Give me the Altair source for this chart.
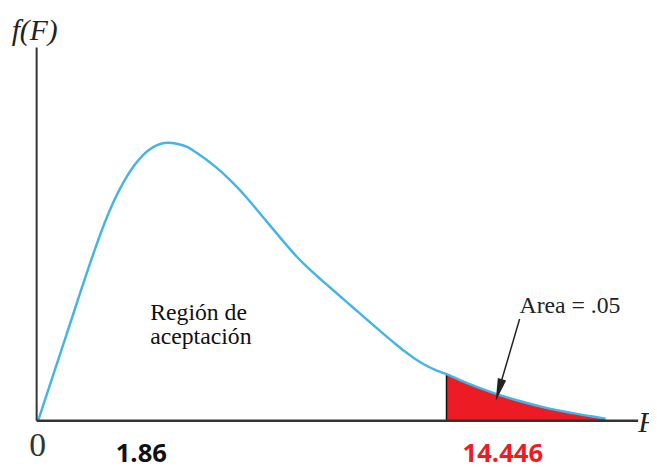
import altair as alt
import pandas as pd

# F-distribution curve (abstract F units, density)
F_vals = [0.052, 1.044, 2.054, 2.367, 2.715, 3.063, 3.411, 3.759, 4.107, 4.351, 4.629,
          4.977, 5.325, 5.674, 6.022, 6.370, 6.718, 7.066, 7.414, 7.762, 8.110,
          8.458, 8.806, 9.154, 9.502, 9.850, 10.198, 10.546, 10.894, 11.243, 11.591,
          11.939, 12.287, 12.635, 12.983, 13.331, 13.679, 14.027, 14.446, 15.176, 16.116,
          17.055, 17.960, 18.900, 19.596, 20.049]
f_vals = [0.0, 0.04119, 0.08262, 0.09438, 0.10567, 0.11505, 0.12257, 0.12819, 0.13190, 0.13343, 0.13405,
          0.13343, 0.13190, 0.12881, 0.12548, 0.12167, 0.11738, 0.11262, 0.10738, 0.10176, 0.09605,
          0.09033, 0.08471, 0.07929, 0.07452, 0.07014, 0.06595, 0.06181, 0.05767, 0.05352, 0.04938,
          0.04524, 0.04114, 0.03714, 0.03333, 0.02990, 0.02700, 0.02462, 0.02248, 0.01810, 0.01333,
          0.00938, 0.00619, 0.00367, 0.00200, 0.00105]
critical = 14.446
critical_f = 0.02248
x_max = 21.2
y_max = 0.18

labels = ["f(F)", "F", "0", "1.86", "14.446", "Región de", "aceptación", "Area = .05"]

df = pd.DataFrame({"F": F_vals, "f": f_vals})
tail = df[df["F"] >= critical]

xs = alt.Scale(domain=[0, x_max], nice=False, zero=False)
ys = alt.Scale(domain=[0, y_max], nice=False, zero=False)

area = alt.Chart(tail).mark_area(color="#ED1C24", interpolate="monotone").encode(
    x=alt.X("F:Q", scale=xs, axis=None),
    y=alt.Y("f:Q", scale=ys, axis=None),
)

crit = alt.Chart(pd.DataFrame({"F": [critical], "lo": [0.0], "f": [critical_f]})).mark_rule(
    color="#111111", strokeWidth=1.5
).encode(
    x=alt.X("F:Q", scale=xs, axis=None),
    y=alt.Y("lo:Q", scale=ys, axis=None),
    y2="f:Q",
)

curve = alt.Chart(df).mark_line(color="#45B5E8", strokeWidth=2.5, interpolate="monotone").encode(
    x=alt.X("F:Q", scale=xs, axis=None),
    y=alt.Y("f:Q", scale=ys, axis=None),
)

yaxis = alt.Chart(pd.DataFrame({"F": [0.0], "lo": [0.0], "hi": [y_max]})).mark_rule(
    color="#333333", strokeWidth=2
).encode(
    x=alt.X("F:Q", scale=xs, axis=None),
    y=alt.Y("lo:Q", scale=ys, axis=None),
    y2="hi:Q",
)

xaxis = alt.Chart(pd.DataFrame({"a": [0.0], "b": [x_max], "f": [0.0]})).mark_rule(
    color="#333333", strokeWidth=2.5
).encode(
    x=alt.X("a:Q", scale=xs, axis=None),
    x2="b:Q",
    y=alt.Y("f:Q", scale=ys, axis=None),
)

one = pd.DataFrame({"k": [0]})


def label(text, x, y, **kw):
    return alt.Chart(one).mark_text(**kw).encode(
        x=alt.value(x), y=alt.value(y), text=alt.value(text)
    )


serif = "Liberation Serif"
texts = [
    label(labels[0], -2, -7, font=serif, fontStyle="italic", fontSize=30, align="center", baseline="alphabetic", color="#222222"),
    label(labels[1], 609, 389, font=serif, fontStyle="italic", fontSize=30, align="left", baseline="alphabetic", color="#222222"),
    label(labels[2], 1, 414, font=serif, fontSize=34, align="center", baseline="alphabetic", color="#333333"),
    label(labels[3], 106, 420, font="Open Sans", fontWeight="bold", fontSize=26, align="center", baseline="alphabetic", color="#111111"),
    label(labels[4], 472, 420, font="Open Sans", fontWeight="bold", fontSize=26, align="center", baseline="alphabetic", color="#ED1C24"),
    label(labels[5], 115, 276, font=serif, fontSize=24, align="left", baseline="alphabetic", color="#111111"),
    label(labels[6], 115, 300, font=serif, fontSize=24, align="left", baseline="alphabetic", color="#111111"),
    label(labels[7], 540, 269, font=serif, fontSize=24, align="center", baseline="alphabetic", color="#222222"),
]

arrow_line = alt.Chart(one).mark_rule(color="#222222", strokeWidth=1.5).encode(
    x=alt.value(489), y=alt.value(275), x2=alt.value(467), y2=alt.value(350)
)
arrow_head = alt.Chart(one).mark_point(
    shape="M0,-1L0.38,1L-0.38,1Z", filled=True, color="#222222", opacity=1, angle=196, size=529
).encode(x=alt.value(468), y=alt.value(347))

chart = alt.layer(area, crit, curve, yaxis, xaxis, arrow_line, arrow_head, *texts).properties(
    width=609,
    height=378,
    padding={"left": 29, "top": 37, "right": 11, "bottom": 47},
    autosize=alt.AutoSizeParams(type="none"),
    background="white",
).configure_view(stroke=None)

chart.save("out.html", embed_options={"renderer": "svg", "actions": False})
